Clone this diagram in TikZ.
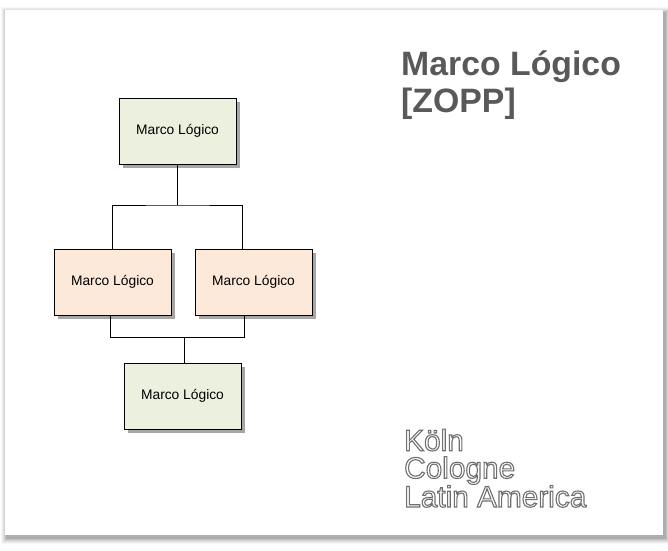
\documentclass[tikz,border=0pt]{standalone}
\usepackage{fontspec}
\setmainfont{Liberation Sans}
\usetikzlibrary{shadows}
\definecolor{boxgreen}{HTML}{EBF1DE}
\definecolor{boxpeach}{HTML}{FDE9D9}
\definecolor{titlegray}{HTML}{595959}
\definecolor{outgray}{HTML}{6F6F6F}
\newcommand{\outl}[1]{\textcolor{outgray}{\special{pdf:literal direct 1 Tr 1.1 w}#1\special{pdf:literal direct 0 Tr}}}
\tikzset{
  orgbox/.style={draw=black, line width=0.8pt, minimum width=117pt, minimum height=66pt,
    inner sep=0pt, font=\fontsize{13.8}{16}\selectfont,
    drop shadow={shadow xshift=4pt, shadow yshift=-4pt, fill=black, opacity=0.35}},
  link/.style={draw=black, line width=0.6pt}
}
\begin{document}
\begin{tikzpicture}[x=1pt,y=-1pt]
\useasboundingbox (0,0) rectangle (668,550);
\fill[white] (0,0) rectangle (668,550);
% slide shadow
\foreach \i/\o in {6/0.03,5/0.04,4/0.05,3/0.06,2/0.08,1/0.10}{
  \fill[black,opacity=\o] (5-\i+2,10-\i+3) rectangle (663+\i+2,535+\i+3);
}
\fill[white] (5,10) rectangle (663,535);

\node[orgbox, fill=boxgreen] (T) at (177.5,131) {Marco Lógico};
\node[orgbox, fill=boxpeach] (L) at (112.5,282) {Marco Lógico};
\node[orgbox, fill=boxpeach] (R) at (253.5,282) {Marco Lógico};
\node[orgbox, fill=boxgreen] (B) at (182.5,396) {Marco Lógico};

\coordinate (j1) at (177.5,205);
\coordinate (j2) at (184,337);
\draw[link] (T.south) -- (j1);
\draw[link] (L.north) |- (j1) -| ([xshift=-11.5pt]R.north);
\draw[link] ([xshift=-2.5pt]L.south) |- (j2) -| ([xshift=-9.5pt]R.south);
\draw[link] (j2) -- ([xshift=1.5pt]B.north);

\node[anchor=base west, inner sep=0pt, text=titlegray, font=\fontsize{33.8}{37}\selectfont\bfseries, align=left] (title) at (401,112) {Marco Lógico\\{}[ZOPP]};

\node[anchor=base west, inner sep=0pt, font=\fontsize{29.8}{27.5}\selectfont, align=left] (city) at (404,507)
  {\outl{Köln}\\\outl{Cologne}\\\outl{Latin America}};
\end{tikzpicture}
\end{document}
